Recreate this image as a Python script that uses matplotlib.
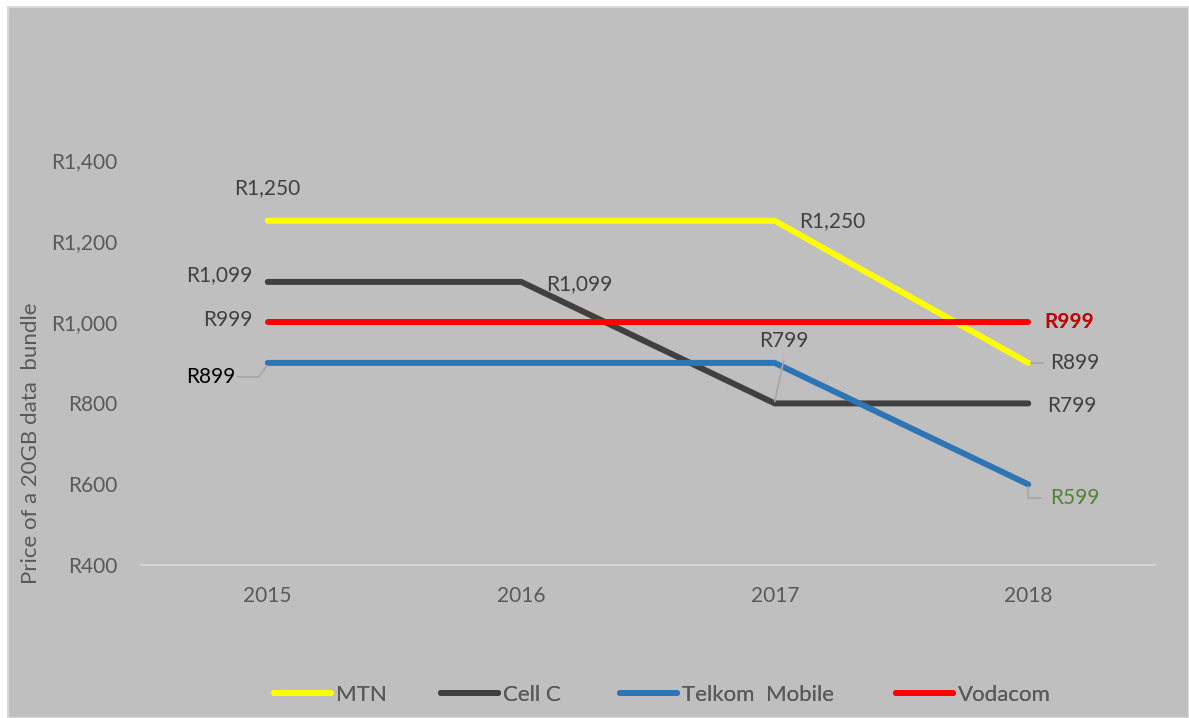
import matplotlib
matplotlib.use("Agg")
import matplotlib.pyplot as plt
from matplotlib.lines import Line2D
from matplotlib.patches import Rectangle
from matplotlib.transforms import IdentityTransform

plt.rcParams["font.family"] = ["Lato", "DejaVu Sans"]

years = ["2015", "2016", "2017", "2018"]
mtn = [1250, 1250, 1250, 899]
cell_c = [1099, 1099, 799, 799]
telkom = [899, 899, 899, 599]
vodacom = [999, 999, 999, 999]

series_names = ["MTN", "Cell C", "Telkom  Mobile", "Vodacom"]
series_values = [mtn, cell_c, telkom, vodacom]
series_colors = ["#FFFF00", "#404040", "#2E75B6", "#FF0000"]

y_ticks = [400, 600, 800, 1000, 1200, 1400]


def rand(v):
    return f"R{v:,}"


fig = plt.figure(figsize=(11.89, 7.18), dpi=100)
fig.patch.set_facecolor("white")
fig.add_artist(Rectangle((8 / 1189, 0), 1 - 8 / 1189, 1 - 7 / 718, transform=fig.transFigure,
                         facecolor="#BFBFBF", edgecolor="#D9D9D9", linewidth=1.5, zorder=0))

ax = fig.add_axes([141 / 1189, 1 - 565 / 718, (1155 - 141) / 1189, (565 - 160) / 718])
ax.set_facecolor("none")

x = list(range(len(years)))
handles = []
for name, vals, col in zip(series_names, series_values, series_colors):
    h, = ax.plot(x, vals, color=col, linewidth=4.3, solid_capstyle="round", solid_joinstyle="miter", label=name)
    handles.append(h)

ax.set_xlim(-0.5, len(years) - 0.5)
ax.set_ylim(400, 1400)
ax.set_xticks(x)
ax.set_xticklabels(years)
ax.set_yticks(y_ticks)
ax.set_yticklabels([rand(v) for v in y_ticks])
ax.tick_params(length=0, labelsize=15, colors="#595959")
ax.tick_params(axis="y", pad=17)
ax.tick_params(axis="x", pad=15)
for s in ["top", "right", "left"]:
    ax.spines[s].set_visible(False)
ax.spines["bottom"].set_color("#D9D9D9")
ax.spines["bottom"].set_linewidth(1.2)

fig.text(31 / 1189, 1 - 443 / 718, "Price of a 20GB data  bundle", rotation=90,
         ha="center", va="center", fontsize=16, color="#595959")

# data labels: (series index, point index, dx, dy in pixels, ha, color, weight)
labels = [
    (0, 0, 0, 33, "center", "#404040", "normal"),
    (0, 2, 24, 0, "left", "#404040", "normal"),
    (0, 3, 22, 0, "left", "#404040", "normal"),
    (1, 0, -15, 7, "right", "#404040", "normal"),
    (1, 1, 25, -2, "left", "#404040", "normal"),
    (1, 2, 9, 62, "center", "#404040", "normal"),
    (1, 3, 19, -3, "left", "#404040", "normal"),
    (3, 0, -15, 2, "right", "#404040", "normal"),
    (3, 3, 16, 0, "left", "#C00000", "bold"),
    (2, 0, -32, -14, "right", "black", "normal"),
    (2, 3, 22, -14, "left", "#548235", "normal"),
]
for si, pi, dx, dy, ha, col, wt in labels:
    v = series_values[si][pi]
    ax.annotate(rand(v), (pi, v), xytext=(dx, dy), textcoords="offset pixels",
                ha=ha, va="center", fontsize=15, color=col, fontweight=wt)

# leader lines (pixel offsets from the data point, y up)
leaders = [
    (2, 0, [(-30, -14), (-9, -14), (-1, -3)]),
    (1, 2, [(0, 2), (9, 43)]),
    (0, 3, [(3, 0), (15, 0)]),
    (2, 3, [(0, -3), (0, -14), (13, -14)]),
]
for si, pi, offs in leaders:
    px, py = ax.transData.transform((pi, series_values[si][pi]))
    fig.add_artist(Line2D([px + o[0] for o in offs], [py + o[1] for o in offs],
                          transform=IdentityTransform(), color="#A6A6A6", linewidth=1.2))

# legend entries placed one by one to follow the original spacing
legend_x = [274, 441, 620, 896]
for h, lx in zip(handles, legend_x):
    leg = fig.legend([h], [h.get_label()], loc="center left", bbox_to_anchor=(lx / 1189, 1 - 695 / 718),
                     frameon=False, fontsize=16, labelcolor="#595959", handlelength=2.57,
                     handletextpad=0.2, borderpad=0, borderaxespad=0)
    fig.add_artist(leg)

fig.savefig("out.png", dpi=100, facecolor=fig.get_facecolor())
